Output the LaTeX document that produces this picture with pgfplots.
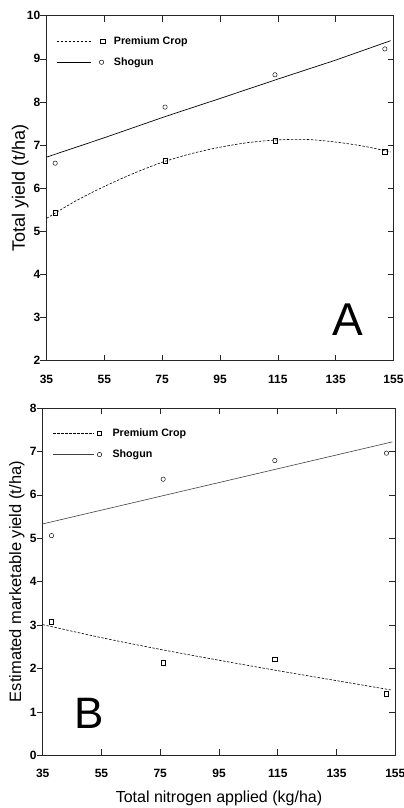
\documentclass[border=0pt]{standalone}
\usepackage{fontspec}
\setmainfont{Liberation Sans}
\usepackage{pgfplots}
\pgfplotsset{compat=1.18}
\pgfplotsset{
  common/.style={
    scale only axis,
    xmin=35, xmax=155,
    xtick={35,55,...,155},
    /pgf/number format/assume math mode=true,
    axis line style={line width=0.7pt, black!85},
    major tick style={line width=0.6pt, black!85},
    major tick length=6pt,
    xtick pos=both, xtick align=inside,
    ytick pos=left, ytick align=outside,
    ticklabel style={font=\fontsize{12}{12}\selectfont\bfseries},
    xticklabel style={inner sep=0pt, anchor=north, yshift=-14pt},
    yticklabel style={inner sep=0pt, anchor=east},
    every axis y label/.style={at={(axis description cs:0,0.5)}, xshift=-21.5pt, rotate=90, anchor=base, inner sep=0pt},
    every axis x label/.style={at={(axis description cs:0.5,0)}, anchor=north, yshift=-35pt, inner sep=0pt, font=\fontsize{16}{16}\selectfont},
    legend style={draw=none, fill=none, inner sep=0pt, column sep=0pt, row sep=11pt,
      font=\fontsize{10.7}{10.7}\selectfont\bfseries,
      nodes={inner sep=0pt, text height=8pt, text depth=2pt}, cells={anchor=west}},
  },
  rightticks/.style={
    scale only axis,
    xmin=35, xmax=155, xtick=\empty,
    axis line style={draw=none},
    major tick style={line width=0.6pt, black!85},
    major tick length=6pt,
    ytick pos=right, ytick align=inside, yticklabels={},
  },
  fitdash/.style={black, line width=0.6pt, dash pattern=on 2.5pt off 1.5pt},
  fitsolid/.style={black, line width=0.7pt},
  sqm/.style={only marks, mark=square, mark size=2.2pt, mark options={black, solid, line width=0.45pt}},
  cim/.style={only marks, mark=o, mark size=2.2pt, mark options={black, solid, line width=0.45pt}},
}
\begin{document}
\begin{tikzpicture}
\useasboundingbox (0pt,0pt) rectangle (404pt,808pt);
% ---------- Panel A ----------
\begin{axis}[common, at={(46.5pt,447.3pt)}, anchor=south west,
  width=347pt, height=345pt, ymin=2, ymax=10, ytick={2,...,10},
  ylabel={Total yield (t/ha)},
  ylabel style={font=\fontsize{18}{18}\selectfont},
  legend style={at={(axis description cs:0.0274,0.941)}, anchor=north west}]
\addplot[fitdash, smooth,
  legend image code/.code={
    \draw[black, line width=0.6pt, dash pattern=on 2.5pt off 1.5pt] (0pt,0pt) -- (34pt,0pt);
    \draw[black, solid, line width=0.5pt] (43.8pt,-2.2pt) rectangle (48.2pt,2.2pt);
    \path (57pt,0pt);}]
  coordinates {(35,5.30) (45,5.70) (55,6.04) (65,6.34) (75,6.60) (85,6.80) (95,6.95) (105,7.06) (115,7.12) (125,7.13) (135,7.07) (145,6.97) (154,6.84)};
\addlegendentry{Premium Crop}
\addplot[fitsolid,
  legend image code/.code={
    \draw[black, solid, line width=0.7pt] (0pt,0pt) -- (34pt,0pt);
    \draw[black, solid, line width=0.5pt] (45pt,0pt) circle (2.2pt);
    \path (57pt,0pt);}]
  coordinates {(35,6.72) (55,7.17) (67,7.45) (76,7.66) (95,8.08) (115,8.53) (135,8.97) (154,9.42)};
\addlegendentry{Shogun}
\addplot[sqm, forget plot] coordinates {(38,5.43) (76,6.64) (114,7.10) (152,6.85)};
\addplot[cim, forget plot] coordinates {(38,6.58) (76,7.88) (114,8.63) (152,9.23)};
\node[anchor=base, inner sep=0pt, font=\fontsize{46}{46}\selectfont] at (rel axis cs:0.869,0.0716) {A};
\end{axis}
\begin{axis}[rightticks, at={(46.5pt,447.3pt)}, anchor=south west,
  width=347pt, height=345pt, ymin=2, ymax=10, ytick={2,...,10}]
\end{axis}
% ---------- Panel B ----------
\begin{axis}[common, at={(42.7pt,52.7pt)}, anchor=south west,
  width=352.6pt, height=347.3pt, ymin=0, ymax=8, ytick={0,...,8},
  ylabel={Estimated marketable yield (t/ha)},
  ylabel style={font=\fontsize{16.5}{16.5}\selectfont},
  xlabel={Total nitrogen applied (kg/ha)},
  legend style={at={(axis description cs:0.0284,0.9415)}, anchor=north west}]
\addplot[fitdash, smooth,
  legend image code/.code={
    \draw[black, line width=0.6pt, dash pattern=on 2.5pt off 1.5pt] (0pt,0pt) -- (40.6pt,0pt);
    \draw[black, solid, line width=0.5pt] (44.1pt,-2.2pt) rectangle (48.5pt,2.2pt);
    \path (59pt,0pt);}]
  coordinates {(35,3.01) (55,2.71) (75,2.44) (95,2.19) (115,1.95) (135,1.72) (154,1.50)};
\addlegendentry{Premium Crop}
\addplot[black!75, line width=0.6pt,
  legend image code/.code={
    \draw[black!75, solid, line width=0.6pt] (0pt,0pt) -- (40.6pt,0pt);
    \draw[black, solid, line width=0.5pt] (46.3pt,0pt) circle (2.2pt);
    \path (59pt,0pt);}]
  coordinates {(35,5.33) (154,7.22)};
\addlegendentry{Shogun}
\addplot[sqm, forget plot] coordinates {(38,3.08) (76,2.13) (114,2.22) (152,1.42)};
\addplot[cim, forget plot] coordinates {(38,5.06) (76,6.36) (114,6.79) (152,6.96)};
\node[anchor=base, inner sep=0pt, font=\fontsize{44}{44}\selectfont] at (rel axis cs:0.131,0.0786) {B};
\end{axis}
\begin{axis}[rightticks, at={(42.7pt,52.7pt)}, anchor=south west,
  width=352.6pt, height=347.3pt, ymin=0, ymax=8, ytick={0,...,8}]
\end{axis}
\end{tikzpicture}
\end{document}
